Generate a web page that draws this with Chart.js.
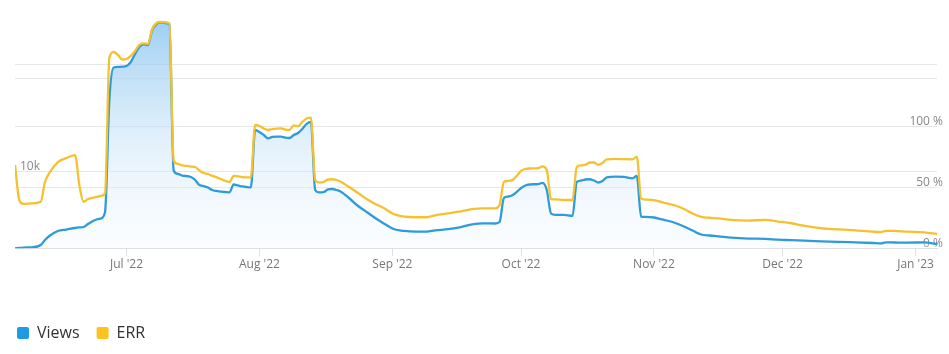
<!DOCTYPE html>
<html>
<head>
<meta charset="utf-8">
<script src="https://cdn.jsdelivr.net/npm/chart.js@4"></script>
<style>
  html, body { margin: 0; padding: 0; background: #fff; }
</style>
</head>
<body>
<canvas id="chart" width="949" height="354"></canvas>
<script>
'use strict';

// daily samples (dates) with Views count and ERR %
const dates = [
  '2022-06-05', '2022-06-06', '2022-06-07', '2022-06-09', '2022-06-11', '2022-06-12', '2022-06-13', '2022-06-15',
  '2022-06-17', '2022-06-19', '2022-06-20', '2022-06-21', '2022-06-22', '2022-06-24', '2022-06-25', '2022-06-26',
  '2022-06-27', '2022-06-28', '2022-06-29', '2022-06-30',
  '2022-07-01', '2022-07-02', '2022-07-03', '2022-07-04', '2022-07-05', '2022-07-06', '2022-07-07', '2022-07-08',
  '2022-07-09', '2022-07-10', '2022-07-11', '2022-07-12', '2022-07-13', '2022-07-14', '2022-07-16', '2022-07-17',
  '2022-07-18', '2022-07-19', '2022-07-20', '2022-07-21', '2022-07-22', '2022-07-23', '2022-07-24', '2022-07-25',
  '2022-07-26', '2022-07-27', '2022-07-28', '2022-07-29', '2022-07-30', '2022-07-31',
  '2022-08-01', '2022-08-02', '2022-08-03', '2022-08-04', '2022-08-05', '2022-08-06', '2022-08-07', '2022-08-08',
  '2022-08-09', '2022-08-10', '2022-08-11', '2022-08-12', '2022-08-13', '2022-08-14', '2022-08-15', '2022-08-16',
  '2022-08-17', '2022-08-18', '2022-08-19', '2022-08-20', '2022-08-22', '2022-08-24', '2022-08-26', '2022-08-28',
  '2022-08-30',
  '2022-09-01', '2022-09-03', '2022-09-05', '2022-09-07', '2022-09-09', '2022-09-11', '2022-09-14', '2022-09-17',
  '2022-09-20', '2022-09-22', '2022-09-25', '2022-09-26', '2022-09-27', '2022-09-28', '2022-09-29', '2022-09-30',
  '2022-10-01', '2022-10-02', '2022-10-03', '2022-10-05', '2022-10-06', '2022-10-07', '2022-10-08', '2022-10-09',
  '2022-10-11', '2022-10-13', '2022-10-14', '2022-10-15', '2022-10-16', '2022-10-17', '2022-10-18', '2022-10-19',
  '2022-10-20', '2022-10-21', '2022-10-23', '2022-10-25', '2022-10-27', '2022-10-28', '2022-10-29', '2022-10-30',
  '2022-11-01', '2022-11-03', '2022-11-04', '2022-11-06', '2022-11-08', '2022-11-10', '2022-11-12', '2022-11-14',
  '2022-11-16', '2022-11-19', '2022-11-23', '2022-11-27', '2022-11-30',
  '2022-12-03', '2022-12-06', '2022-12-10', '2022-12-14', '2022-12-18', '2022-12-22', '2022-12-24', '2022-12-25',
  '2022-12-27', '2022-12-30',
  '2023-01-03', '2023-01-06'
];

const views = [
  0, 40, 100, 130, 430, 1080, 1610, 2260,
  2450, 2650, 2720, 2780, 3170, 3760, 3890, 4740,
  19360, 23600, 23670, 23710,
  23800, 24320, 25370, 26280, 26610, 26540, 28500, 29280,
  29480, 29410, 29280, 10160, 9700, 9500, 9310, 8920,
  8260, 8130, 7940, 7610, 7480, 7390, 7350, 7290,
  8330, 8200, 8070, 8000, 7960, 15440,
  15180, 14790, 14360, 14530, 14570, 14570, 14440, 14400,
  14790, 15050, 15580, 16230, 16490, 7610, 7290, 7350,
  7680, 7740, 7610, 7390, 6500, 5520, 4740, 3960,
  3240,
  2590, 2300, 2220, 2170, 2170, 2350, 2490, 2780,
  3170, 3260, 3240, 3430, 6570, 6760, 6920, 7350,
  7870, 8200, 8330, 8390, 8530, 7610, 4540, 4350,
  4350, 4220, 8660, 8850, 8980, 9010, 8850, 8590,
  8790, 9270, 9350, 9310, 9140, 9440, 4130, 4090,
  4020, 3760, 3630, 3300, 2850, 2320, 1800, 1670,
  1570, 1380, 1270, 1240, 1120,
  1060, 990, 910, 850, 770, 690, 650, 770,
  760, 740,
  780, 560
];

const err = [
  68.2, 39.5, 36.3, 36.8, 38.1, 54.3, 61.6, 70.6,
  73.9, 76.3, 51.8, 38.1, 40.3, 42.0, 42.8, 45.0,
  155.7, 160.6, 158.2, 154.5,
  154.9, 157.4, 161.5, 166.4, 167.6, 167.2, 179.5, 184.4,
  185.2, 184.8, 184.0, 71.8, 69.0, 67.8, 66.9, 66.5,
  63.7, 61.6, 60.8, 59.2, 58.1, 56.7, 55.1, 54.3,
  59.2, 58.8, 58.3, 58.1, 58.1, 100.9,
  100.1, 98.0, 96.8, 97.6, 98.0, 98.2, 97.2, 96.8,
  100.5, 99.8, 103.4, 106.2, 107.0, 55.9, 53.8, 54.3,
  56.3, 56.5, 55.9, 54.5, 49.9, 45.3, 40.3, 36.3,
  33.0,
  28.5, 26.4, 25.6, 25.4, 25.4, 27.0, 28.5, 30.3,
  32.2, 32.7, 32.7, 35.4, 54.3, 55.1, 55.9, 59.2,
  63.3, 64.9, 65.3, 65.5, 67.1, 64.1, 40.3, 40.1,
  39.5, 39.5, 66.5, 67.8, 68.2, 70.2, 70.2, 68.3,
  69.8, 72.8, 73.1, 72.9, 72.8, 75.0, 40.9, 39.9,
  39.5, 37.5, 36.7, 35.0, 32.2, 28.5, 25.8, 25.0,
  24.5, 23.2, 22.7, 23.2, 21.9,
  20.5, 18.5, 16.4, 15.5, 14.6, 13.6, 13.3, 14.2,
  14.2, 13.6,
  13.1, 11.7
];

const monthStarts = ['2022-07-01', '2022-08-01', '2022-09-01', '2022-10-01', '2022-11-01', '2022-12-01', '2023-01-01'];
const monthLabels = ["Jul '22", "Aug '22", "Sep '22", "Oct '22", "Nov '22", "Dec '22", "Jan '23"];

const viewsTicks = [0, 10000, 22200];
const viewsTickLabels = ['', '10k', ''];
const errTicks = [0, 50, 100, 150];
const errTickLabels = ['0 %', '50 %', '100 %', ''];

const BLUE = '#2f9bd8';
const YELLOW = '#f5c130';
const FONT = "'Open Sans', 'DejaVu Sans', sans-serif";

const ORIGIN = Date.parse('2022-07-01');
const toDay = s => (Date.parse(s) - ORIGIN) / 86400000;

const viewsPoints = dates.map((d, i) => ({ x: toDay(d), y: views[i] }));
const errPoints = dates.map((d, i) => ({ x: toDay(d), y: err[i] }));

function areaGradient(context) {
  const { chart } = context;
  const area = chart.chartArea;
  if (!area) return 'rgba(0,0,0,0)';
  const g = chart.ctx.createLinearGradient(0, area.top, 0, area.bottom);
  g.addColorStop(0, 'rgba(140,198,240,0.85)');
  g.addColorStop(0.55, 'rgba(205,230,248,0.55)');
  g.addColorStop(1, 'rgba(240,247,253,0.3)');
  return g;
}

new Chart(document.getElementById('chart'), {
  type: 'line',
  data: {
    datasets: [
      {
        label: 'Views',
        data: viewsPoints,
        yAxisID: 'yViews',
        borderColor: BLUE,
        backgroundColor: areaGradient,
        fill: 'origin',
        order: 1
      },
      {
        label: 'ERR',
        data: errPoints,
        yAxisID: 'yErr',
        borderColor: YELLOW,
        backgroundColor: YELLOW,
        fill: false,
        order: 0
      }
    ]
  },
  options: {
    responsive: false,
    animation: false,
    layout: { padding: { top: 20, left: 0, right: 0, bottom: 3 } },
    elements: {
      point: { radius: 0 },
      line: { borderWidth: 2.3, cubicInterpolationMode: 'monotone' }
    },
    plugins: {
      tooltip: { enabled: false },
      legend: {
        position: 'bottom',
        align: 'start',
        labels: {
          boxWidth: 12,
          boxHeight: 12,
          padding: 17,
          color: '#333',
          font: { family: FONT, size: 16 },
          useBorderRadius: true,
          borderRadius: 2,
          sort: (a, b) => a.datasetIndex - b.datasetIndex,
          generateLabels: chart => Chart.defaults.plugins.legend.labels.generateLabels(chart).map(item => {
            const ds = chart.data.datasets[item.datasetIndex];
            item.fillStyle = ds.label === 'Views' ? '#1f9be4' : '#fcc21d';
            item.strokeStyle = item.fillStyle;
            item.lineWidth = 0;
            return item;
          })
        }
      }
    },
    scales: {
      x: {
        type: 'linear',
        min: toDay(dates[0]),
        max: toDay(dates[dates.length - 1]),
        afterBuildTicks: scale => { scale.ticks = monthStarts.map(m => ({ value: toDay(m) })); },
        afterFit: scale => { scale.height = 59.7; },
        ticks: {
          autoSkip: false,
          maxRotation: 0,
          padding: 1,
          color: '#777',
          font: { family: FONT, size: 12 },
          callback: (v, i) => monthLabels[i]
        },
        grid: { drawOnChartArea: false, drawTicks: true, tickLength: 8, color: '#dde1e6' },
        border: { color: '#dde1e6' }
      },
      yViews: {
        position: 'left',
        min: 0,
        max: 29800,
        afterBuildTicks: scale => { scale.ticks = viewsTicks.map(v => ({ value: v })); },
        afterFit: scale => { scale.width = 15; },
        ticks: {
          mirror: true,
          padding: 5,
          labelOffset: -5,
          color: '#888',
          font: { family: FONT, size: 12 },
          callback: (v, i) => viewsTickLabels[i]
        },
        grid: { color: '#e6e6e6', drawTicks: false },
        border: { display: false }
      },
      yErr: {
        position: 'right',
        min: 0,
        max: 186.8,
        afterBuildTicks: scale => { scale.ticks = errTicks.map(v => ({ value: v })); },
        afterFit: scale => { scale.width = 12; },
        ticks: {
          mirror: true,
          padding: 6,
          labelOffset: -5,
          color: '#888',
          font: { family: FONT, size: 12 },
          callback: (v, i) => errTickLabels[i]
        },
        grid: { color: '#e6e6e6', drawTicks: false },
        border: { display: false }
      }
    }
  }
});
</script>
</body>
</html>
